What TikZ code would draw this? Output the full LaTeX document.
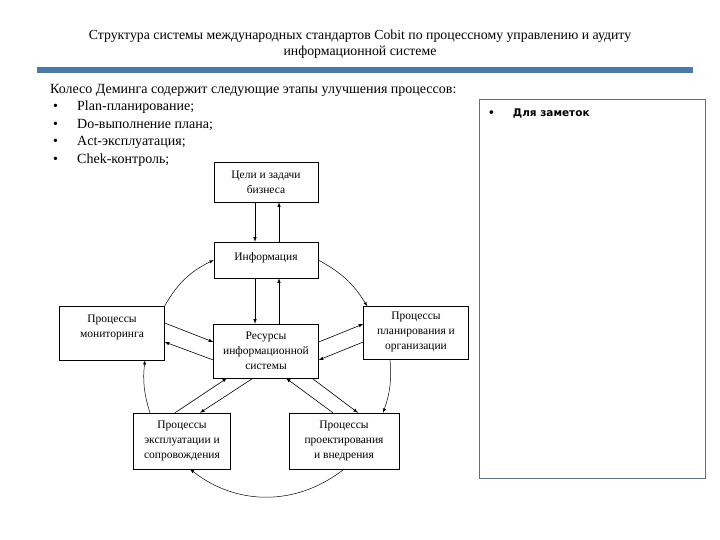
\documentclass[tikz,border=0pt]{standalone}
\usepackage{fontspec}
\setmainfont{Liberation Serif}
\newfontfamily\notefont{DejaVu Sans}
\usetikzlibrary{positioning}
\definecolor{barblue}{HTML}{4A7AA5}
\definecolor{noteframe}{HTML}{5B6F80}

\begin{document}
\begin{tikzpicture}[
    x=1pt, y=-1pt,
    proc/.style={draw,align=center,font=\fontsize{11.5}{15}\selectfont,inner sep=1pt},
    flow/.style={-latex,line width=0.6pt},
    wheel/.style={-latex,line width=0.5pt}
    ]
    \useasboundingbox (0,0) rectangle (720,540);

    % header
    \node[align=center,font=\fontsize{13.8}{16}\selectfont] (title) at (360,44)
        {Структура системы международных стандартов Cobit по процессному управлению и аудиту\\
         информационной системе};
    \fill[barblue] (37,67) rectangle (693,73);

    \node[anchor=north west,align=left,inner sep=0pt,font=\fontsize{14}{17.5}\selectfont] (deming) at (50,84)
        {Колесо Деминга содержит следующие этапы улучшения процессов:\\
         \hspace{3pt}\makebox[24pt][l]{•}Plan-планирование;\\
         \hspace{3pt}\makebox[24pt][l]{•}Do-выполнение плана;\\
         \hspace{3pt}\makebox[24pt][l]{•}Act-эксплуатация;\\
         \hspace{3pt}\makebox[24pt][l]{•}Chek-контроль;};

    % notes
    \node[draw=noteframe,line width=0.8pt,minimum width=226pt,minimum height=379pt] (notes) at (592,288.5) {};
    \node[anchor=west,inner sep=0pt,font=\notefont\bfseries\fontsize{10.5}{12}\selectfont] (notetext) at (488,113)
        {•\hspace{18pt}Для заметок};

    % boxes
    \node[proc,minimum width=104pt,minimum height=40pt] (goals) at (266,182) {Цели и задачи\\бизнеса};
    \node[proc,minimum width=104pt,minimum height=36pt] (info) at (266,260) {Информация\rule[-6pt]{0pt}{6pt}};
    \node[proc,minimum width=105pt,minimum height=54pt] (res) at (266,351) {Ресурсы\\информационной\\системы};
    \node[proc,minimum width=105pt,minimum height=54pt] (mon) at (112,333) {Процессы\\мониторинга\rule[-14pt]{0pt}{14pt}};
    \node[proc,minimum width=105pt,minimum height=53pt] (plan) at (416,333) {Процессы\\планирования и\\организации\rule[-4pt]{0pt}{4pt}};
    \node[proc,minimum width=97pt,minimum height=56pt] (expl) at (182,441) {Процессы\\эксплуатации и\\сопровождения};
    \node[proc,minimum width=110pt,minimum height=56pt] (design) at (344,441) {Процессы\\проектирования\\и внедрения};

    % straight links
    \path
    ([xshift=-11pt]goals.south) edge[flow] ([xshift=-11pt]info.north)
    ([xshift=13pt]info.north) edge[flow] ([xshift=13pt]goals.south)
    ([xshift=-11pt]info.south) edge[flow] ([xshift=-11pt]res.north)
    ([xshift=13pt]res.north) edge[flow] ([xshift=13pt]info.south)

    ([yshift=10pt]mon.east) edge[flow] ([yshift=9pt]res.west)
    ([yshift=-9pt]res.west) edge[flow] ([yshift=-9pt]mon.east)
    ([yshift=9pt]res.east) edge[flow] ([yshift=9pt]plan.west)
    ([yshift=-9pt]plan.west) edge[flow] ([yshift=-9pt]res.east)

    ([xshift=-7pt]expl.north) edge[flow] ([xshift=-39pt]res.south)
    ([xshift=-13pt]res.south) edge[flow] ([xshift=18pt]expl.north)
    ([xshift=-11pt]design.north) edge[flow] ([xshift=20pt]res.south)
    ([xshift=46pt]res.south) edge[flow] ([xshift=14pt]design.north)
    ;

    % Deming wheel
    \path
    (mon.north east) edge[wheel,bend left=17] (info.west)
    (info.east) edge[wheel,bend left=15] ([xshift=4pt]plan.north west)
    ([xshift=-26pt]plan.south) edge[wheel,bend left=12] ([xshift=39pt]design.north)
    (design.south) edge[wheel,bend left=38] ([xshift=8pt]expl.south)
    ([xshift=-32pt]expl.north) edge[wheel,bend left=12] ([xshift=33pt]mon.south)
    ;

\end{tikzpicture}
\end{document}
